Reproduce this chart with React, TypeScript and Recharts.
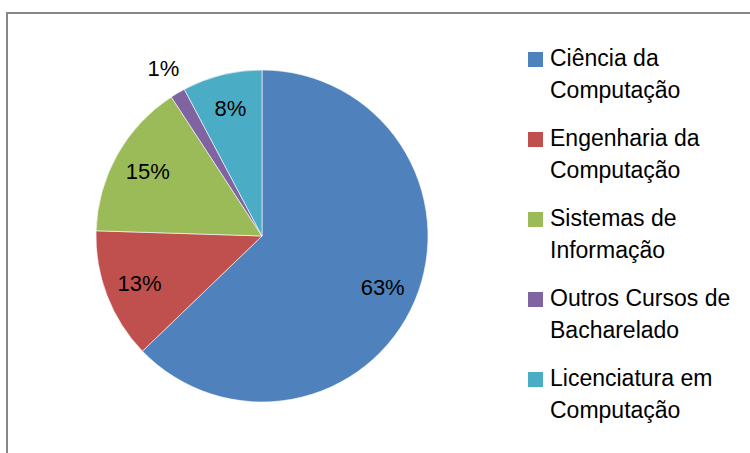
import React from "react";
import { PieChart, Pie, Cell, Legend } from "recharts";

const categories = [
  "Ciência da Computação",
  "Engenharia da Computação",
  "Sistemas de Informação",
  "Outros Cursos de Bacharelado",
  "Licenciatura em Computação",
];
const legendLines = [
  ["Ciência da", "Computação"],
  ["Engenharia da", "Computação"],
  ["Sistemas de", "Informação"],
  ["Outros Cursos de", "Bacharelado"],
  ["Licenciatura em", "Computação"],
];
const values = [62.8, 12.7, 15.3, 1.45, 7.75];
const colors = ["#4F81BD", "#C0504D", "#9BBB59", "#8064A2", "#4BACC6"];

const data = categories.map((name, i) => ({ name, value: values[i] }));
const FONT = "'Liberation Sans', Arial, sans-serif";
const RADIAN = Math.PI / 180;

const renderLabel = (props: any) => {
  const { cx, cy, midAngle, outerRadius, value } = props;
  const total = values.reduce((a, b) => a + b, 0);
  const pct = Math.round((value / total) * 100);
  const r = pct < 3 ? outerRadius + 28 : outerRadius * 0.79;
  const x = cx + r * Math.cos(-midAngle * RADIAN);
  const y = cy + r * Math.sin(-midAngle * RADIAN);
  return (
    <text
      x={x}
      y={y}
      textAnchor="middle"
      dominantBaseline="central"
      fill="#000"
      fontFamily={FONT}
      fontSize={22}
    >
      {pct + "%"}
    </text>
  );
};

const renderLegend = () => (
  <div style={{ fontFamily: FONT, fontSize: 23, color: "#000" }}>
    {legendLines.map((lines, i) => (
      <div key={i} style={{ position: "relative", height: 80 }}>
        <div
          style={{
            position: "absolute",
            left: 8,
            top: 10,
            width: 15,
            height: 15,
            background: colors[i],
          }}
        />
        <div style={{ position: "absolute", left: 30, top: 0, lineHeight: "32px", whiteSpace: "nowrap" }}>
          <div>{lines[0]}</div>
          <div>{lines[1]}</div>
        </div>
      </div>
    ))}
  </div>
);

export default function App() {
  return (
    <div style={{ position: "absolute", left: 0, top: 0, width: 750, height: 453, background: "#fff", overflow: "hidden" }}>
      <div
        style={{
          position: "absolute",
          left: 6,
          top: 12,
          width: 800,
          height: 500,
          borderTop: "2px solid #878787",
          borderLeft: "2px solid #878787",
          boxSizing: "border-box",
        }}
      />
      <div style={{ position: "absolute", left: 0, top: 0 }}>
        <PieChart width={750} height={453} margin={{ top: 0, right: 0, bottom: 0, left: 0 }}>
          <Pie
            data={data}
            dataKey="value"
            nameKey="name"
            cx={262}
            cy={236}
            outerRadius={166}
            startAngle={90}
            endAngle={-270}
            stroke="#ffffff"
            strokeWidth={0.6}
            label={renderLabel}
            labelLine={false}
            isAnimationActive={false}
          >
            {data.map((d, i) => (
              <Cell key={d.name} fill={colors[i]} />
            ))}
          </Pie>
          <Legend
            layout="vertical"
            align="right"
            verticalAlign="middle"
            content={renderLegend}
            wrapperStyle={{ left: 520, top: 42, width: 230, right: "auto", bottom: "auto" }}
          />
        </PieChart>
      </div>
    </div>
  );
}
